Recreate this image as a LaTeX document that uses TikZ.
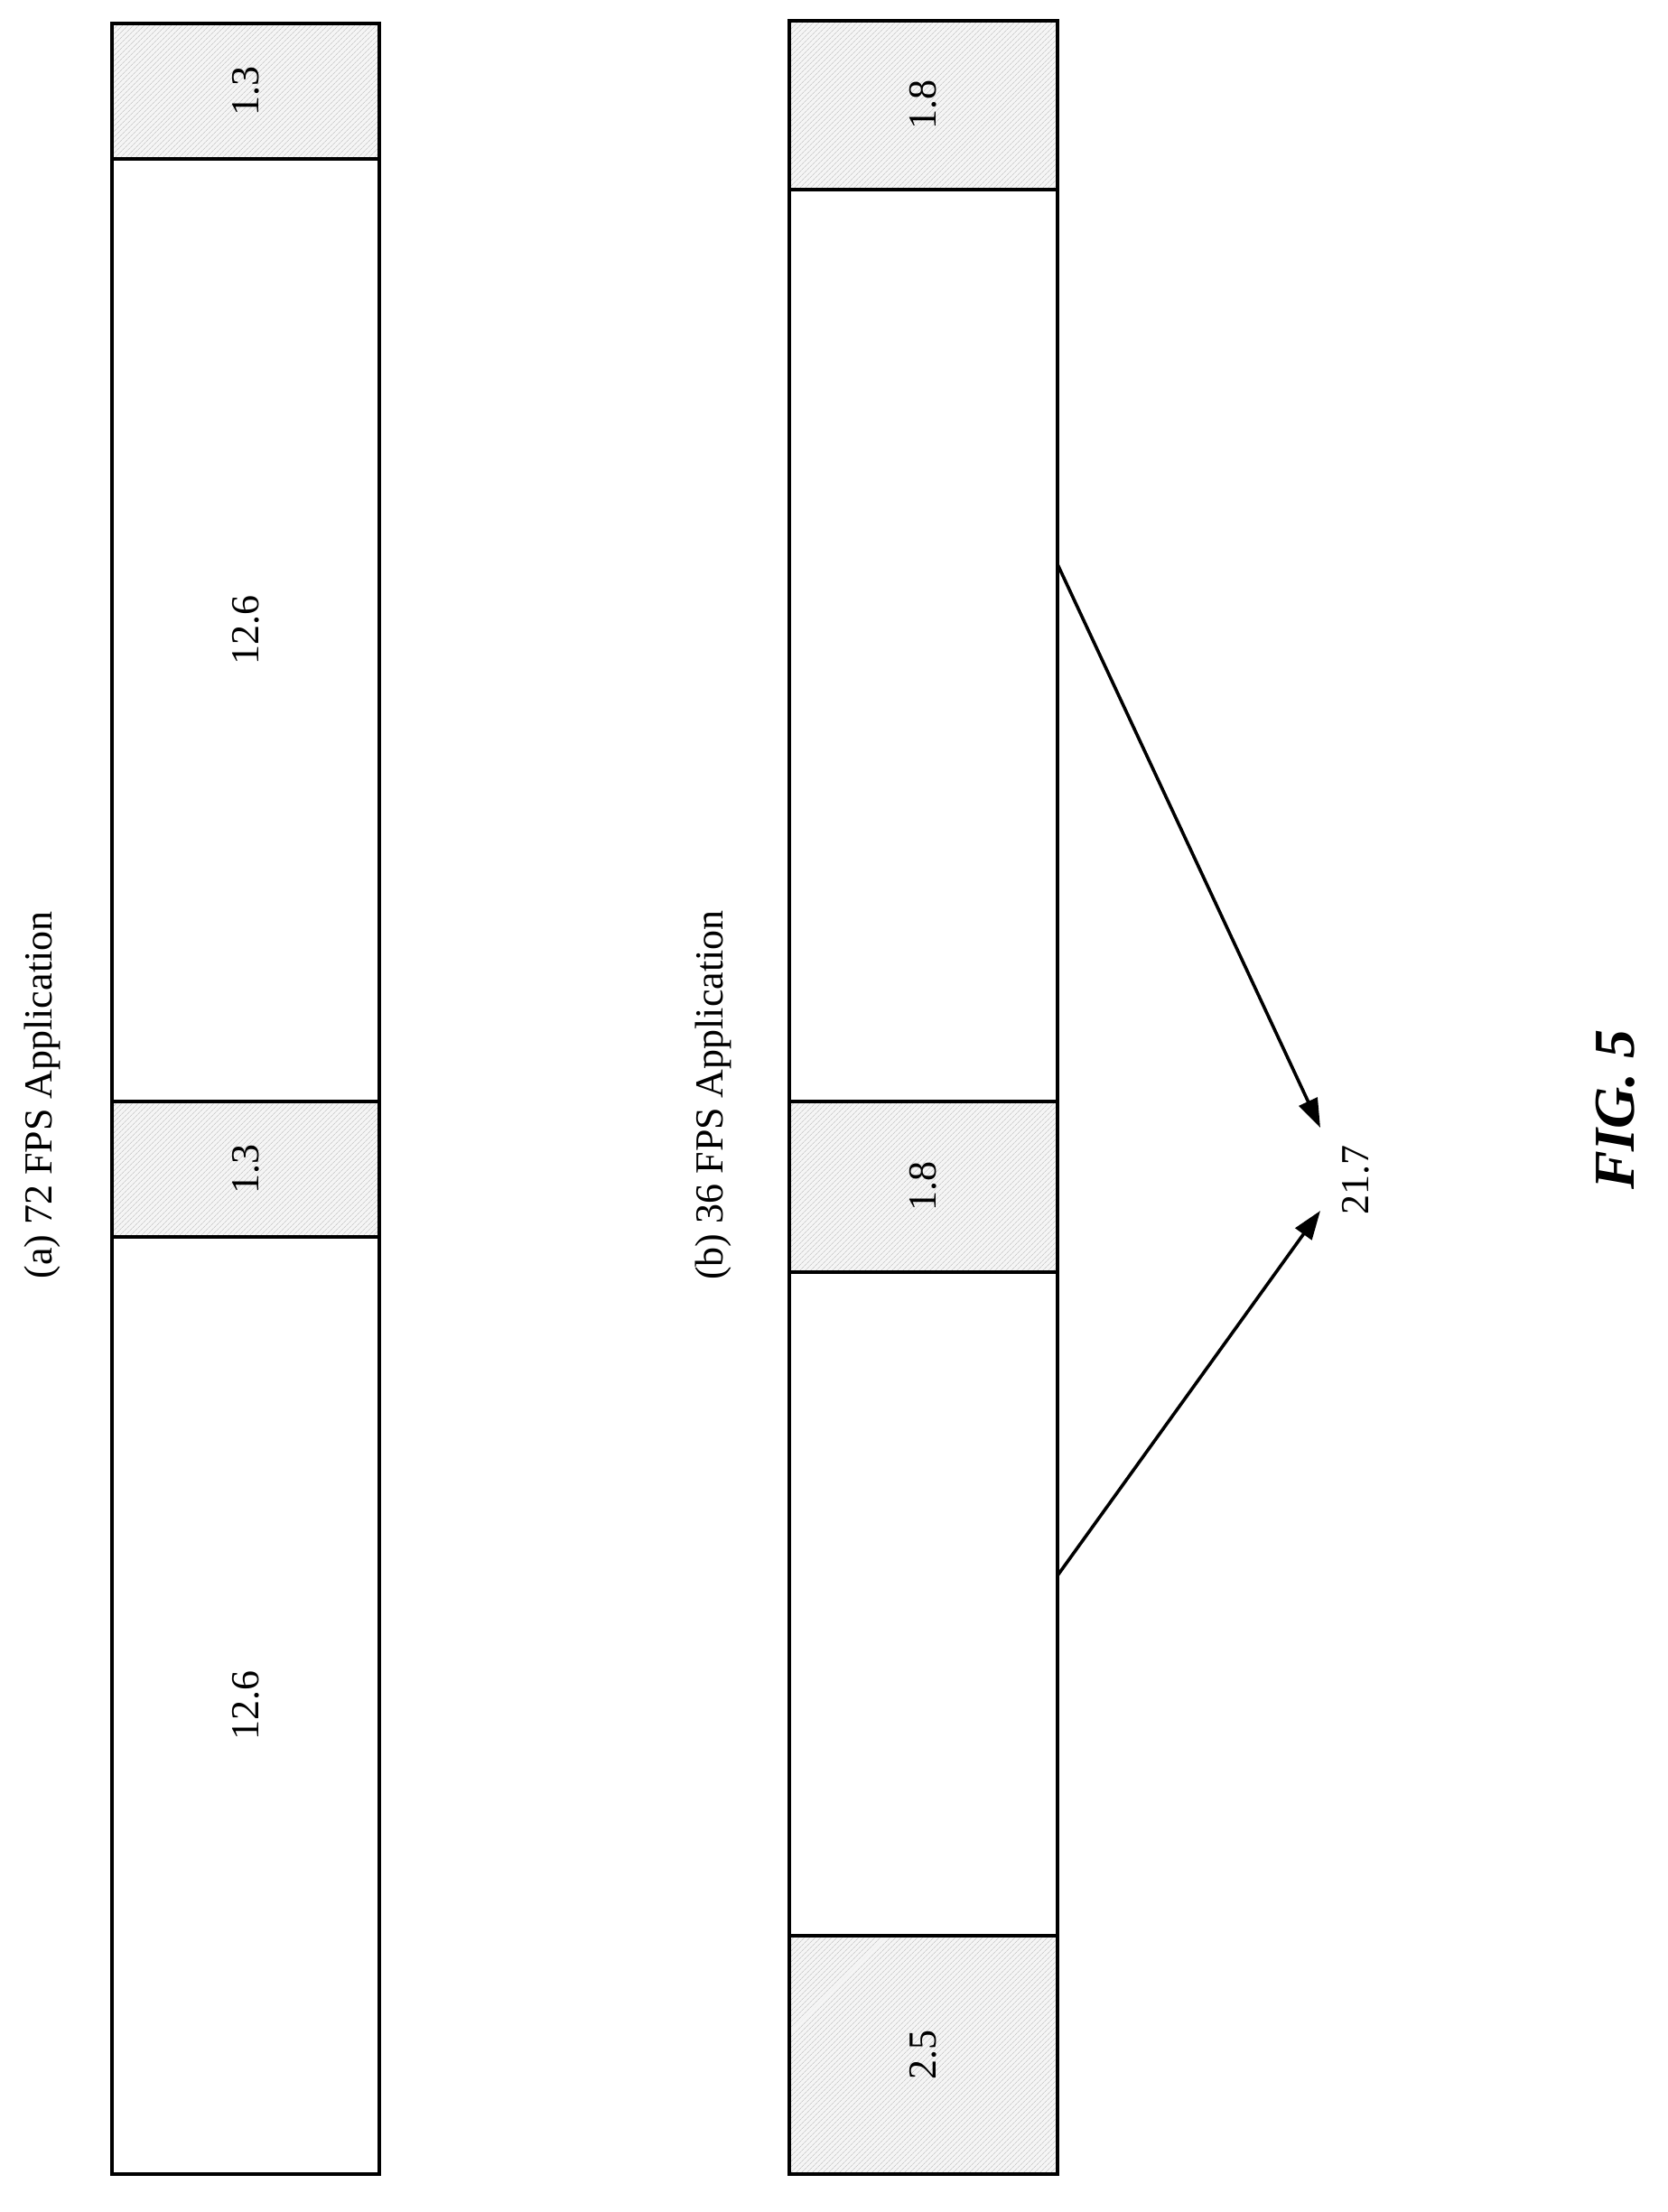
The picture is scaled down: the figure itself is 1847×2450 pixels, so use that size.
\documentclass[tikz,border=0pt]{standalone}
\usepackage{fontspec}
\setmainfont{Liberation Serif}
\usetikzlibrary{patterns.meta,arrows.meta}

\begin{document}
\begin{tikzpicture}[x=1pt,y=-1pt,
    seg/.style={draw=black,line width=4pt,fill=white},
    busy/.style={seg,pattern={Lines[angle=45,distance=4pt,line width=0.6pt]},pattern color=gray!55},
    lbl/.style={rotate=90,font=\fontsize{44}{50}\selectfont,inner sep=1pt}]
    \useasboundingbox (0,0) rectangle (1847,2450);

    % bar (a)
    \fill[gray!8] (124,26) rectangle (420,176);
    \draw[busy] (124,26) rectangle (420,176);
    \draw[seg] (124,176) rectangle (420,1220);
    \fill[gray!8] (124,1220) rectangle (420,1370);
    \draw[busy] (124,1220) rectangle (420,1370);
    \draw[seg] (124,1370) rectangle (420,2408);
    \node[lbl] (a1) at (272,101) {1.3};
    \node[lbl] (a2) at (272,698) {12.6};
    \node[lbl] (a3) at (272,1295) {1.3};
    \node[lbl] (a4) at (272,1889) {12.6};

    % bar (b)
    \fill[gray!8] (874,23) rectangle (1171,210);
    \draw[busy] (874,23) rectangle (1171,210);
    \draw[seg] (874,210) rectangle (1171,1220);
    \fill[gray!8] (874,1220) rectangle (1171,1409);
    \draw[busy] (874,1220) rectangle (1171,1409);
    \draw[seg] (874,1409) rectangle (1171,2144);
    \fill[gray!8] (874,2144) rectangle (1171,2408);
    \draw[busy] (874,2144) rectangle (1171,2408);
    \node[lbl] (b1) at (1022,116) {1.8};
    \node[lbl] (b3) at (1022,1314) {1.8};
    \node[lbl] (b5) at (1022,2276) {2.5};

    % titles
    \node[lbl] (ta) at (47,1213) {(a) 72 FPS Application};
    \node[lbl] (tb) at (790,1213) {(b) 36 FPS Application};
    \node[lbl] (total) at (1501,1307) {21.7};
    \node[rotate=90,font=\fontsize{64}{70}\selectfont\bfseries\itshape] (fig) at (1789,1229) {FIG. 5};

    % arrows
    \coordinate (s1) at (1171,625);
    \coordinate (s2) at (1171,1745);
    \coordinate (e1) at (1462,1249);
    \coordinate (e2) at (1462,1341);
    \draw[line width=3.6pt,-{Triangle[length=32pt,width=22pt]}] (s1) -- (e1);
    \draw[line width=3.6pt,-{Triangle[length=32pt,width=22pt]}] (s2) -- (e2);
\end{tikzpicture}
\end{document}
